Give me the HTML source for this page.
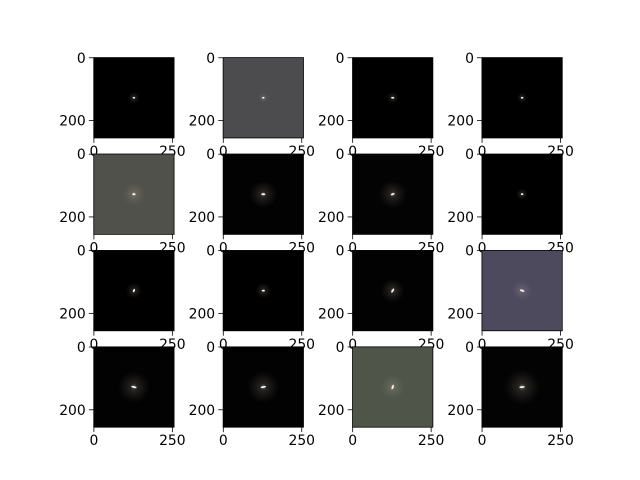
<!DOCTYPE html>
<html><head><meta charset="utf-8"><style>
body{margin:0;background:#fff;}
svg{display:block;font-family:"DejaVu Sans","Liberation Sans",sans-serif;}
</style></head><body>
<svg id="fig" width="640" height="480" viewBox="0 0 640 480" xmlns="http://www.w3.org/2000/svg">
<defs id="defs"></defs>
<rect width="640" height="480" fill="#fff"/>
</svg>
<script>
const bgColors=["#000","#4c4c4f","#000","#000","#50514a","#020202","#030303","#000","#000","#000","#020202","#4e4a5e","#020202","#020202","#4f5649","#030303"];
const glowSize=[6,5,6,5,12,14,14,6,8,8,12,10,16,16,12,18];
const coreAngle=[0,0,0,0,0,0,-20,0,-70,0,-60,20,15,-10,-70,-5];
const coreLen=[1.3,1.3,1.6,1.3,1.6,2,2,1.3,1.8,1.6,2.4,2.4,2.8,2.8,2.4,2.8];
const xTicks=[0,250];
const yTicks=[0,200];
const imgN=256;
const svg=document.getElementById('fig'), defs=document.getElementById('defs');
const NS='http://www.w3.org/2000/svg';
function mk(t,a){const e=document.createElementNS(NS,t);for(const k in a)e.setAttribute(k,a[k]);return e;}
const L=80,R=576,T=57.6,B=427.2;
const cw=(R-L)/4.6, ch=(B-T)/4.6, s=Math.min(cw,ch);
for(let i=0;i<16;i++){
  const r=Math.floor(i/4), c=i%4;
  const cx=L+c*cw*1.2+cw/2, top=T+r*ch*1.2+(ch-s)/2, x0=cx-s/2;
  const xs=v=>x0+(v+0.5)/imgN*s, ys=v=>top+(v+0.5)/imgN*s;
  const g=mk('g',{});
  
  
  const gr=mk('radialGradient',{id:'gl'+i});
  [[0,'rgba(255,245,235,0.45)'],[0.2,'rgba(200,190,180,0.18)'],[1,'rgba(150,140,130,0)']].forEach(([o,col])=>gr.appendChild(mk('stop',{offset:o,'stop-color':col})));
  defs.appendChild(gr);
  const bg=mk('rect',{x:x0,y:top,width:s,height:s,fill:bgColors[i]});
  
  
  g.appendChild(bg);
  const mx=xs(127.5), my=ys(127.5);
  const glow=mk('circle',{cx:mx,cy:my,r:glowSize[i],fill:'url(#gl'+i+')'});
  
  
  g.appendChild(glow);
  const core=mk('ellipse',{cx:mx,cy:my,rx:coreLen[i],ry:0.9,fill:'#fff4e8',transform:`rotate(${coreAngle[i]} ${mx} ${my})`});
  
  
  g.appendChild(core);
  const fr=mk('rect',{x:x0,y:top,width:s,height:s,fill:'none',stroke:'#000','stroke-width':0.8});
  
  
  g.appendChild(fr);
  xTicks.forEach(v=>{const x=xs(v);
    g.appendChild(mk('line',{x1:x,y1:top+s,x2:x,y2:top+s+4.9,stroke:'#000','stroke-width':0.8}));
    const t=mk('text',{x:x,y:top+s+18,'font-size':13.9,'text-anchor':'middle',fill:'#000'});t.textContent=v;
    
    
    g.appendChild(t);});
  yTicks.forEach(v=>{const y=ys(v);
    g.appendChild(mk('line',{x1:x0,y1:y,x2:x0-4.9,y2:y,stroke:'#000','stroke-width':0.8}));
    const t=mk('text',{x:x0-8,y:y+5,'font-size':13.9,'text-anchor':'end',fill:'#000'});t.textContent=v;
    
    
    g.appendChild(t);});
  svg.appendChild(g);
}
</script>
</body></html>
